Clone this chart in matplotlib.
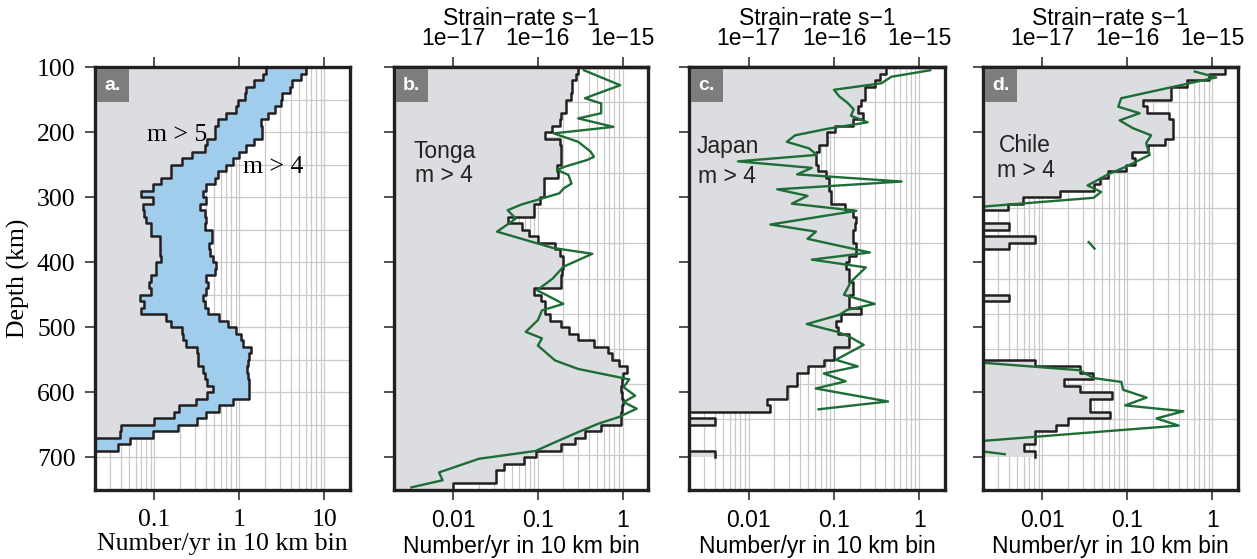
import numpy as np
import matplotlib
matplotlib.use("Agg")
import matplotlib.pyplot as plt
from matplotlib.patches import Rectangle
from matplotlib.ticker import NullLocator

# ---- data: number of events per year in 10 km depth bins (bin tops, km) ----
a_bins = np.arange(100, 700, 10)
a_m5 = [2.06, 1.9, 1.5, 1.2, 1.15, 0.95, 0.92, 0.70, 0.56, 0.51,
        0.52, 0.42, 0.39, 0.28, 0.21, 0.157, 0.157, 0.12, 0.095, 0.070,
        0.095, 0.073, 0.076, 0.079, 0.091, 0.091, 0.115, 0.116, 0.115, 0.12,
        0.104, 0.104, 0.091, 0.087, 0.09, 0.067, 0.076, 0.07, 0.137, 0.157,
        0.21, 0.215, 0.236, 0.32, 0.33, 0.33, 0.37, 0.39, 0.42, 0.49,
        0.42, 0.31, 0.197, 0.172, 0.1, 0.041, 0.039, 0, 0, 0]
a_m4 = [6.1, 5.3, 4.2, 3.9, 3.2, 3.1, 2.6, 2.15, 1.8, 1.85,
        1.83, 1.5, 1.2, 1.0, 0.84, 0.70, 0.56, 0.51, 0.41, 0.37,
        0.41, 0.34, 0.39, 0.41, 0.39, 0.48, 0.47, 0.44, 0.45, 0.49,
        0.53, 0.51, 0.41, 0.43, 0.41, 0.37, 0.39, 0.43, 0.58, 0.73,
        0.92, 1.05, 1.1, 1.37, 1.3, 1.25, 1.22, 1.25, 1.28, 1.3,
        1.3, 0.84, 0.58, 0.41, 0.32, 0.188, 0.095, 0.051, 0.037, 0]

b_bins = np.arange(100, 750, 10)
b_count = [0.30, 0.28, 0.25, 0.25, 0.245, 0.215, 0.215, 0.19, 0.185, 0.145,
           0.123, 0.185, 0.19, 0.19, 0.19, 0.169, 0.175, 0.117, 0.117, 0.117,
           0.105, 0.09, 0.09, 0.044, 0.065, 0.078, 0.10, 0.16, 0.185, 0.20,
           0.20, 0.195, 0.19, 0.19, 0.09, 0.11, 0.12, 0.12, 0.14, 0.19,
           0.235, 0.30, 0.46, 0.68, 0.76, 0.9, 1.12, 1.02, 0.98, 0.95,
           0.98, 1.0, 0.98, 0.95, 0.95, 0.56, 0.36, 0.276, 0.19, 0.094,
           0.068, 0.040, 0.032, 0.032, 0.01]
b_sr_depth = [105, 128, 148, 156, 171, 179, 192, 202, 215, 230, 238, 243, 253,
              258, 266, 279, 287, 294, 305, 311, 320, 333, 353, 378, 387, 407,
              425, 443, 464, 474, 489, 507, 517, 528, 551, 564, 580, 592, 605,
              615, 625, 638, 648, 661, 674, 690, 702, 723, 735, 746]
b_sr = [0.35, 0.94, 0.36, 0.56, 0.56, 0.30, 0.78, 0.154, 0.30, 0.42, 0.46, 0.38,
        0.21, 0.17, 0.23, 0.25, 0.20, 0.18, 0.094, 0.065, 0.044, 0.055, 0.033,
        0.15, 0.44, 0.20, 0.15, 0.098, 0.20, 0.112, 0.10, 0.072, 0.112, 0.10,
        0.16, 0.30, 1.2, 1.03, 1.41, 1.03, 1.47, 0.90, 0.52, 0.30, 0.177, 0.094,
        0.0202, 0.0068, 0.0075, 0.0032]

c_bins = np.arange(100, 700, 10)
c_count = [0.41, 0.35, 0.30, 0.23, 0.23, 0.21, 0.19, 0.22, 0.165, 0.103,
           0.082, 0.082, 0.066, 0.062, 0.062, 0.065, 0.08, 0.0885, 0.0885, 0.093,
           0.093, 0.133, 0.167, 0.183, 0.175, 0.167, 0.167, 0.183, 0.183, 0.152,
           0.138, 0.152, 0.152, 0.167, 0.167, 0.152, 0.152, 0.209, 0.12, 0.106,
           0.11, 0.15, 0.15, 0.1, 0.1, 0.077, 0.049, 0.037, 0.037, 0.028,
           0.028, 0.0162, 0.0177, 0, 0.004, 0, 0, 0, 0, 0.004]
c_sr_depth = [105, 115, 125, 135, 145, 155, 165, 175, 185, 195, 205, 215, 225,
              235, 245, 255, 265, 276, 288, 298, 310, 321, 342, 353, 364, 385,
              396, 408, 430, 450, 464, 473, 481, 495, 507, 514, 527, 550, 560,
              571, 583, 594, 614, 626]
c_sr = [1.34, 0.47, 0.36, 0.10, 0.115, 0.144, 0.17, 0.158, 0.248, 0.083, 0.035,
        0.028, 0.051, 0.063, 0.0075, 0.055, 0.037, 0.62, 0.0216, 0.049, 0.032,
        0.183, 0.018, 0.0615, 0.049, 0.263, 0.055, 0.236, 0.158, 0.131, 0.30,
        0.144, 0.115, 0.048, 0.11, 0.15, 0.223, 0.105, 0.19, 0.076, 0.137,
        0.061, 0.43, 0.066]

d_bins = np.arange(100, 700, 10)
d_count = [1.41, 0.90, 0.50, 0.33, 0.33, 0.151, 0.168, 0.31, 0.347, 0.347,
           0.347, 0.277, 0.176, 0.112, 0.123, 0.096, 0.059, 0.047, 0.04, 0.016,
           0.0059, 0.0039, 0, 0, 0.004, 0, 0.0081, 0.004, 0, 0,
           0, 0, 0, 0, 0, 0.004, 0, 0, 0, 0,
           0, 0, 0, 0, 0, 0.0081, 0.028, 0.039, 0.0178, 0.0275,
           0.065, 0.036, 0.036, 0.062, 0.020, 0.0144, 0.0081, 0.0081, 0.0061, 0.0081]
d_sr_depth = [107, 116, 148, 161, 171, 182, 194, 205, 217, 235, 253, 265, 282,
              292, 301, 315, np.nan, 369, 379, np.nan, 554, 566, 578, 584, 596,
              608, 620, 629, 640, 651, 675, np.nan, 690, 695]
d_sr = [0.62, 1.11, 0.0845, 0.078, 0.139, 0.081, 0.116, 0.19, 0.166, 0.183,
        0.097, 0.059, 0.034, 0.049, 0.040, 0.0018, np.nan, 0.035, 0.041, np.nan,
        0.0018, 0.0275, 0.040, 0.085, 0.089, 0.168, 0.094, 0.455, 0.22, 0.40,
        0.0018, np.nan, 0.0018, 0.0036]

region_names = ["Tonga", "Japan", "Chile"]
panel_letters = ["a.", "b.", "c.", "d."]
depth_ticks = [100, 200, 300, 400, 500, 600, 700]
a_xticks = [0.1, 1, 10]
a_xlabels = ["0.1", "1", "10"]
bcd_xticks = [0.01, 0.1, 1]
bcd_xlabels = ["0.01", "0.1", "1"]
sr_ticks = [1e-17, 1e-16, 1e-15]
sr_labels = ["1e\u221217", "1e\u221216", "1e\u221215"]

# ---- style ----
GRAY = "#dcdde0"
BLUE = "#a0cdec"
GREEN = "#1d6d36"
INK = "#231f20"
GRID = "#c9c9c9"
FLOOR = 1e-6
SANS = "Liberation Sans"
SERIF = "Liberation Serif"
plt.rcParams["font.family"] = SANS

W, H = 1257, 559
fig = plt.figure(figsize=(W / 100, H / 100), dpi=100)


def px_axes(left, top, right, bottom):
    return fig.add_axes([left / W, 1 - bottom / H, (right - left) / W, (bottom - top) / H])


def steps(tops, vals, width=10):
    edges = np.append(tops, tops[-1] + width)
    y = np.repeat(edges, 2)[1:-1]
    v = np.asarray(vals, dtype=float)
    x = np.repeat(np.where(v > 0, v, FLOOR), 2)
    return x, y


def frame(ax, xlim, hgrid):
    ax.set_xscale("log")
    ax.set_xlim(*xlim)
    ax.set_ylim(750, 100)
    for dec in range(-3, 2):
        for k in range(1, 10):
            v = k * 10.0 ** dec
            if xlim[0] < v < xlim[1]:
                ax.axvline(v, color=GRID, lw=0.9, zorder=0.5)
    for h in hgrid:
        ax.axhline(h, color=GRID, lw=0.9, zorder=0.5)
    ax.xaxis.set_minor_locator(NullLocator())
    ax.yaxis.set_minor_locator(NullLocator())
    ax.set_yticks(depth_ticks)
    for s in ax.spines.values():
        s.set_linewidth(2.4)
        s.set_color(INK)
        s.set_zorder(5)
    ax.tick_params(direction="out", length=7, width=1.2, color="#333333", pad=7)


def letter(ax, txt):
    ax.add_patch(Rectangle((0.006, 0.918), 0.128, 0.078, transform=ax.transAxes,
                           facecolor="#7d7d7d", edgecolor="none", zorder=6))
    ax.text(0.07, 0.957, txt, transform=ax.transAxes, ha="center", va="center",
            color="white", fontsize=14, fontweight="bold", zorder=7)


# ---- panel a ----
ax = px_axes(95, 67, 350, 490)
frame(ax, (0.02, 20), np.arange(100, 751, 50))
x5, ys = steps(a_bins, a_m5)
x4, _ = steps(a_bins, a_m4)
ax.fill_betweenx(ys, FLOOR, x5, color=GRAY, lw=0, zorder=1)
ax.fill_betweenx(ys, x5, x4, color=BLUE, lw=0, zorder=1)
ax.plot(x5, ys, color=INK, lw=1.8, zorder=3)
ax.plot(x4, ys, color=INK, lw=1.8, zorder=3)
ax.set_xticks(a_xticks, labels=a_xlabels)
ax.tick_params(top=True, labelfontfamily=SERIF, labelsize=18.5)
ax.set_xlabel("Number/yr in 10 km bin", family=SERIF, fontsize=18.5, labelpad=1)
ax.set_ylabel("Depth (km)", family=SERIF, fontsize=18.5, labelpad=5)
ax.text(0.205, 0.825, "m > 5", transform=ax.transAxes, family=SERIF,
        fontsize=18.5, va="baseline", zorder=4)
ax.text(0.582, 0.749, "m > 4", transform=ax.transAxes, family=SERIF,
        fontsize=18.5, va="baseline", zorder=4)
letter(ax, panel_letters[0])

# ---- panels b, c, d ----
panels = [
    ((394, 648), b_bins, b_count, b_sr_depth, b_sr, (0.075, 0.785), (0.083, 0.728)),
    ((689, 945), c_bins, c_count, c_sr_depth, c_sr, (0.031, 0.797), (0.035, 0.726)),
    ((983, 1238), d_bins, d_count, d_sr_depth, d_sr, (0.063, 0.799), (0.055, 0.74)),
]
for i, (xs, bins, cnt, srd, sr, p1, p2) in enumerate(panels):
    ax = px_axes(xs[0], 67, xs[1], 490)
    frame(ax, (0.002, 2), 100 + np.arange(1, 12) * 650 / 12)
    xc, yc = steps(bins, cnt)
    ax.fill_betweenx(yc, FLOOR, xc, color=GRAY, lw=0, zorder=1)
    ax.plot(xc, yc, color=INK, lw=1.8, zorder=3)
    ax.plot(sr, srd, color=GREEN, lw=1.7, zorder=4)
    ax.set_xticks(bcd_xticks, labels=bcd_xlabels)
    ax.tick_params(labelleft=False, labelsize=16.5)
    ax.set_xlabel("Number/yr in 10 km bin", fontsize=16.5, labelpad=2)
    sec = ax.secondary_xaxis("top", functions=(lambda n: n * 1e-15, lambda s: s * 1e15))
    sec.set_xticks(sr_ticks, labels=sr_labels)
    sec.xaxis.set_minor_locator(NullLocator())
    sec.tick_params(direction="out", length=7, width=1.2, color="#333333",
                    labelsize=16.5, pad=5)
    sec.spines["top"].set_linewidth(2.4)
    sec.spines["top"].set_color(INK)
    sec.set_xlabel("Strain\u2212rate s\u22121", fontsize=16.5, labelpad=2)
    ax.text(p1[0], p1[1], region_names[i], transform=ax.transAxes,
            fontsize=16.5, va="baseline", color="#222222", zorder=4)
    ax.text(p2[0], p2[1], "m > 4", transform=ax.transAxes,
            fontsize=16.5, va="baseline", color="#222222", zorder=4)
    letter(ax, panel_letters[i + 1])

fig.savefig("out.png", dpi=100)
